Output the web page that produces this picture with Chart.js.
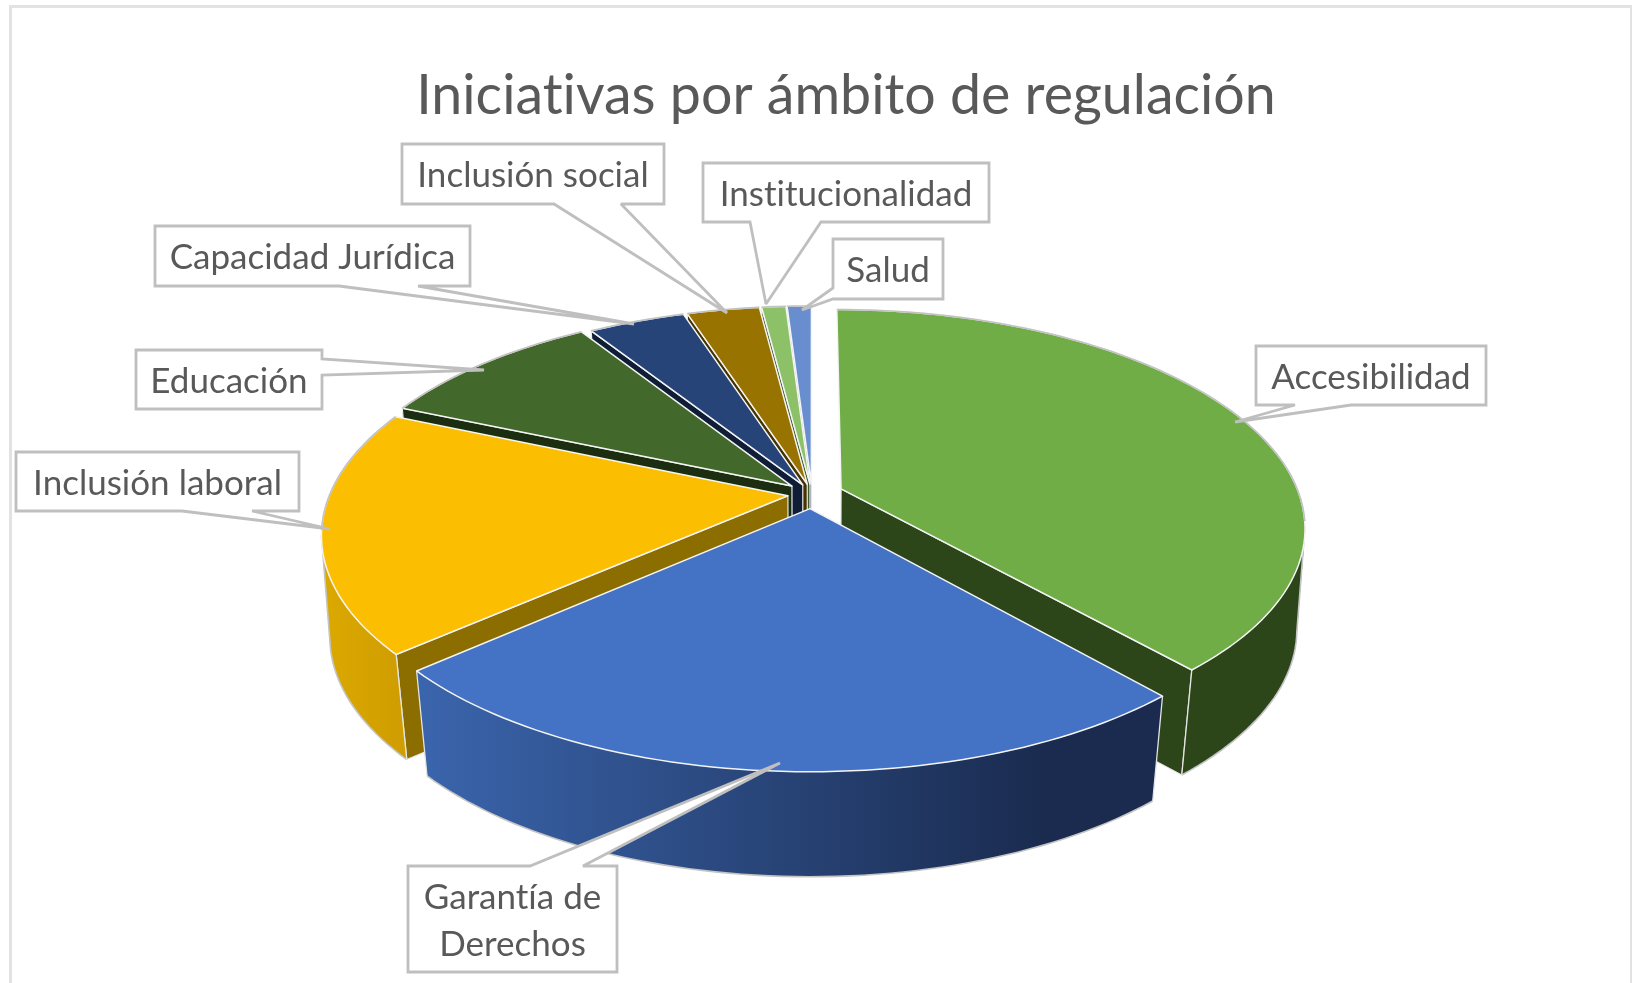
<!DOCTYPE html>
<html lang="es"><head><meta charset="utf-8"><title>Iniciativas por ámbito de regulación</title>
<style>
html,body{margin:0;padding:0;background:#fff;overflow:hidden;width:1632px;height:983px}
#frame{position:absolute;left:9px;top:5px;width:1640px;height:1040px;border:3px solid #e2e2e2;box-sizing:border-box}
#frame2{position:absolute;left:1630px;top:5px;width:2px;height:978px;background:#e2e2e2}
canvas{position:absolute;left:0;top:0;display:block}
</style>
<script src="https://cdn.jsdelivr.net/npm/chart.js@4/dist/chart.umd.min.js"></script>
</head><body>
<div id="frame"></div><div id="frame2"></div>
<canvas id="c" width="1632" height="983"></canvas>
<script>
const titleText = 'Iniciativas por ámbito de regulación';
const categories = ['Accesibilidad','Garantía de Derechos','Inclusión laboral','Educación','Capacidad Jurídica','Inclusión social','Institucionalidad','Salud'];
const values = [38.5,25,18,9.5,4,3,1,1];
const topColors = ['#70AD47','#4472C4','#FBBE00','#43682B','#264478','#997300','#8CC168','#698ED0'];
const radialWall = ['#2C4519','#1A2C50','#8B6D00','#1C2E10','#101D36','#453300','#3F5A2A','#2E4068'];
const rimLeft = ['#2C4519','#3A64AB','#DBA800','#2C4519','#1A2C50','#6B5000','#5A8040','#3A5A90'];
const rimRight = ['#2C4519','#1A2B4F','#D09E00','#2C4519','#1A2C50','#6B5000','#5A8040','#3A5A90'];
const explode = [100,100,78,85,70,70,70,70];

// 3D view of the pie
const view = {cx:812, cy:494, a:458, b:212, k:0.173, depth:105, shrink:0.986, shrinkV:0.017};

// callouts: [x0,y0,x1,y1], side, base a, base b, tip x, tip y
const callouts = [
 {box:[1256,346,1486,405], side:'bottom', a:1295, b:1351, tip:[1235,422], lines:['Accesibilidad']},
 {box:[408,866,617,972], side:'top', a:530, b:583, tip:[780,763], lines:['Garantía de','Derechos']},
 {box:[16,452,299,511], side:'bottom', a:182, b:252, tip:[330,529], lines:['Inclusión laboral']},
 {box:[136,350,322,409], side:'right', a:359, b:375, tip:[484,370], lines:['Educación']},
 {box:[155,226,470,286], side:'bottom', a:339, b:418, tip:[634,324], lines:['Capacidad Jurídica']},
 {box:[402,144,664,204], side:'bottom', a:554, b:621, tip:[727,313], lines:['Inclusión social']},
 {box:[703,163,989,222], side:'bottom', a:750, b:821, tip:[766,304], lines:['Institucionalidad']},
 {box:[833,239,943,299], side:'left', a:288, b:299, tip:[802,310], lines:['Salud']}
];

function P(u,v){const w=1-view.k*v;return [view.cx+view.a*u/w, view.cy+view.b*v/w];}
function B(p,v){const s=view.shrink-view.shrinkV*Math.abs(v);return [view.cx+(p[0]-view.cx)*s, p[1]+view.depth];}
function poly(ctx,pts){ctx.beginPath();pts.forEach((p,i)=>i?ctx.lineTo(p[0],p[1]):ctx.moveTo(p[0],p[1]));}
function area(q){let s=0;q.forEach((p,i)=>{const r=q[(i+1)%q.length];s+=p[0]*r[1]-r[0]*p[1];});return s;}

const pie3d = {
 id:'pie3d',
 beforeDraw(chart){chart.ctx.letterSpacing='0.01px';},
 beforeDatasetDraw(chart,args){
  const ctx=chart.ctx, els=chart.getDatasetMeta(args.index).data;
  const order=els.map((el,i)=>({el,i,mid:(el.startAngle+el.endAngle)/2})).sort((p,q)=>Math.sin(p.mid)-Math.sin(q.mid));
  ctx.save();ctx.lineJoin='round';
  for(const {el,i,mid} of order){
   const o=el.options.offset/4/el.outerRadius, ou=o*Math.cos(mid), ov=o*Math.sin(mid);
   const n=Math.max(4,Math.ceil((el.endAngle-el.startAngle)*40));
   const rim=[],ang=[],rimB=[];
   for(let s=0;s<=n;s++){const t=el.startAngle+(el.endAngle-el.startAngle)*s/n;ang.push(t);const vv=ov+Math.sin(t),p=P(ou+Math.cos(t),vv);rim.push(p);rimB.push(B(p,vv));}
   const apex=P(ou,ov), apexB=B(apex,ov);
   // radial walls, only those facing the viewer
   ctx.fillStyle=radialWall[i];ctx.strokeStyle='#e9e9e9';ctx.lineWidth=1.2;
   if(Math.cos(ang[0])<-1e-6){poly(ctx,[apex,rim[0],rimB[0],apexB]);ctx.closePath();ctx.fill();ctx.stroke();}
   if(Math.cos(ang[n])>1e-6){poly(ctx,[apex,rim[n],rimB[n],apexB]);ctx.closePath();ctx.fill();ctx.stroke();}
   // outer wall: union of consistently wound segments, front part only
   const xs=rimB.map(p=>p[0]),x0=Math.min(...xs),x1=Math.max(...xs);
   const g=ctx.createLinearGradient(x0,0,x0+(x1-x0)*0.85,0);g.addColorStop(0,rimLeft[i]);g.addColorStop(1,rimRight[i]);
   ctx.fillStyle=g;ctx.beginPath();
   for(let s=0;s<n;s++){
    if(Math.sin(ang[s])<0.1&&Math.sin(ang[s+1])<0.1)continue;
    let q=[rim[s],rim[s+1],rimB[s+1],rimB[s]];
    if(area(q)<0)q=q.reverse();
    q.forEach((p,j)=>j?ctx.lineTo(p[0],p[1]):ctx.moveTo(p[0],p[1]));ctx.closePath();
   }
   ctx.fill('nonzero');
   const idx=[];for(let s=0;s<=n;s++)if(Math.sin(ang[s])>0.17)idx.push(s);
   if(idx.length>1){
    const pts=idx.map(s=>rimB[s]),f=idx[0],l=idx[idx.length-1];
    if(f>0)pts.unshift(rim[f]);
    if(l<n)pts.push(rim[l]);
    ctx.strokeStyle='#c4c4c4';ctx.lineWidth=1.6;poly(ctx,pts);ctx.stroke();
   }
   ctx.strokeStyle='#e4e4e4';ctx.lineWidth=1.3;
   if(Math.sin(ang[0])>0.17){poly(ctx,[rim[0],rimB[0]]);ctx.stroke();}
   if(Math.sin(ang[n])>0.17){poly(ctx,[rim[n],rimB[n]]);ctx.stroke();}
   // top face
   ctx.fillStyle=el.options.backgroundColor;poly(ctx,[apex].concat(rim));ctx.closePath();ctx.fill();
   ctx.strokeStyle='#f4f4f4';ctx.lineWidth=1.5;ctx.stroke();
   ctx.strokeStyle='#c2c2c2';ctx.lineWidth=1.6;
   const back=rim.filter((p,s)=>Math.sin(ang[s])<0.17);
   if(back.length>1){poly(ctx,back);ctx.stroke();}
  }
  ctx.restore();
  return false;
 },
 afterDatasetsDraw(chart){
  const ctx=chart.ctx;ctx.save();
  ctx.font='35px Lato';ctx.textAlign='center';ctx.textBaseline='middle';
  for(const c of callouts){
   const [x0,y0,x1,y1]=c.box,t=c.tip;let pts;
   if(c.side==='bottom')pts=[[x0,y0],[x1,y0],[x1,y1],[c.b,y1],t,[c.a,y1],[x0,y1]];
   else if(c.side==='top')pts=[[x0,y0],[c.a,y0],t,[c.b,y0],[x1,y0],[x1,y1],[x0,y1]];
   else if(c.side==='right')pts=[[x0,y0],[x1,y0],[x1,c.a],t,[x1,c.b],[x1,y1],[x0,y1]];
   else pts=[[x0,y0],[x1,y0],[x1,y1],[x0,y1],[x0,c.b],t,[x0,c.a]];
   poly(ctx,pts);ctx.closePath();ctx.fillStyle='#fff';ctx.fill();
   ctx.strokeStyle='#bfbfbf';ctx.lineWidth=2.8;ctx.lineJoin='miter';ctx.miterLimit=2;ctx.stroke();
   ctx.fillStyle='#595959';
   const lh=47, my=(y0+y1)/2+2, n=c.lines.length;
   c.lines.forEach((s,i)=>ctx.fillText(s,(x0+x1)/2,my+lh*(i-(n-1)/2)));
  }
  ctx.restore();
 }
};

new Chart(document.getElementById('c'),{
 type:'pie',
 data:{labels:categories,datasets:[{data:values,backgroundColor:topColors,borderWidth:0,offset:explode}]},
 plugins:[pie3d],
 options:{
  responsive:false,animation:false,events:[],
  layout:{padding:{left:60,top:0,right:0,bottom:0}},
  plugins:{
   legend:{display:false},tooltip:{enabled:false},
   title:{display:true,text:titleText,color:'#595959',font:{family:'Lato',size:55.5,weight:'normal'},padding:{top:63,bottom:20}}
  }
 }
});
</script>
</body></html>
